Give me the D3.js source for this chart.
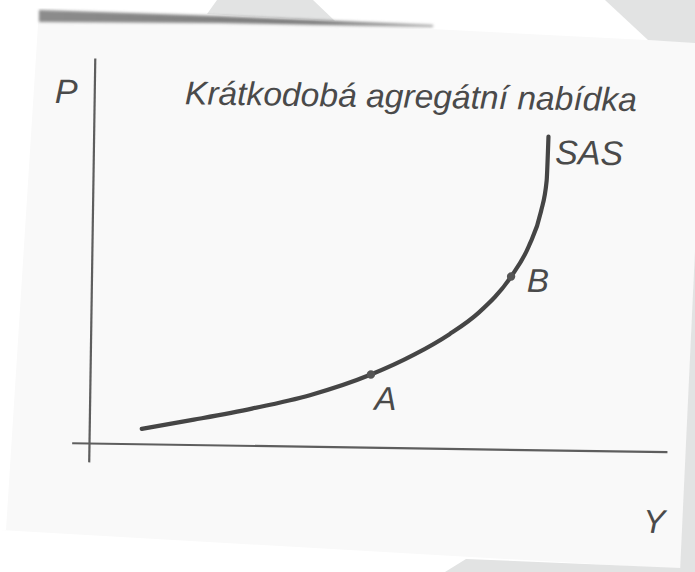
<!DOCTYPE html>
<html>
<head>
<meta charset="utf-8">
<script src="https://cdn.jsdelivr.net/npm/d3@7"></script>
<style>
  html, body { margin: 0; padding: 0; background: #ffffff; }
  svg { display: block; }
  text { font-family: "Liberation Sans", Arial, Helvetica, sans-serif; font-style: italic; fill: #4a4a4a; }
</style>
</head>
<body>
<script>
// Short-run aggregate supply curve (output Y vs. price level P)
const outputY = [9, 18, 28, 38, 48.5, 56, 62, 67, 72.5, 75.5, 77.5, 78.4, 78.6];
const priceP  = [4, 6.6, 9.7, 13.4, 19, 24.4, 29.8, 35.5, 45, 53, 62, 70, 81.5];

// Marked points on the curve
const pointNames = ["A", "B"];
const pointY     = [48.5, 72.5];
const pointP     = [19, 45];

const titleText = "Krátkodobá agregátní nabídka";
const curveName = "SAS";
const axisNames = { x: "Y", y: "P" };

const W = 695, H = 572;
const svg = d3.select("body").append("svg").attr("width", W).attr("height", H);

// ---- printed page backdrop ----
const bg = svg.append("g");
const defs = svg.append("defs");
defs.append("filter").attr("id", "soft").append("feGaussianBlur").attr("stdDeviation", 1.6);
const grad = defs.append("linearGradient").attr("id", "edge").attr("x1", 0).attr("x2", 1);
grad.append("stop").attr("offset", 0).attr("stop-color", "#8c8c8c");
grad.append("stop").attr("offset", 0.7).attr("stop-color", "#7a7a7a");
grad.append("stop").attr("offset", 1).attr("stop-color", "#9a9a9a");

const poly = pts => pts.map(p => p.join(",")).join(" ");
bg.append("polygon").attr("points", poly([[39,9],[647,40],[695,42],[695,250],[681,572],[0,572],[0,530],[6,530]]))
  .attr("fill", "#f9f9f9");
bg.append("polygon").attr("points", poly([[0,530],[681,569],[681,572],[0,572]])).attr("fill", "#ffffff");
bg.append("polygon").attr("points", poly([[217,0],[313,0],[335,21],[207,14]])).attr("fill", "#e2e3e3");
bg.append("polygon").attr("points", poly([[605,0],[695,0],[695,43],[648,40]])).attr("fill", "#e2e3e3");
bg.append("polygon").attr("points", poly([[695,250],[695,572],[680,572]])).attr("fill", "#e2e3e3");
bg.append("polygon").attr("points", poly([[445,572],[466,559],[681,568],[681,572]])).attr("fill", "#e2e3e3");
bg.append("polygon").attr("points", poly([[39,10],[220,16],[433,25],[433,27],[220,23],[39,22]]))
  .attr("fill", "url(#edge)").attr("filter", "url(#soft)");

// ---- chart (the printed figure sits slightly rotated) ----
const origin = [89.5, 443.5];
const g = svg.append("g")
  .attr("transform", `translate(${origin[0]},${origin[1]}) rotate(0.86)`);

const x = d3.scaleLinear().domain([0, 100]).range([0, 578]);
const y = d3.scaleLinear().domain([0, 100]).range([0, -385]);

// axes: plain lines without ticks, crossing a little past the origin
g.append("line").attr("x1", x(-3)).attr("x2", x(100)).attr("y1", y(0)).attr("y2", y(0))
  .attr("stroke", "#5e5e5e").attr("stroke-width", 2.2);
g.append("line").attr("x1", x(0)).attr("x2", x(0)).attr("y1", y(-4.9)).attr("y2", y(100))
  .attr("stroke", "#5e5e5e").attr("stroke-width", 2.2);

const data = outputY.map((v, i) => [v, priceP[i]]);
const line = d3.line().x(d => x(d[0])).y(d => y(d[1])).curve(d3.curveMonotoneX);
g.append("path").datum(data).attr("d", line)
  .attr("fill", "none").attr("stroke", "#454545").attr("stroke-width", 4.2)
  .attr("stroke-linecap", "round");

pointNames.forEach((n, i) => {
  g.append("circle").attr("cx", x(pointY[i])).attr("cy", y(pointP[i])).attr("r", 4.2)
    .attr("fill", "#555");
});

// labels
g.append("text").attr("x", x(48.5) + 4).attr("y", y(19) + 35).attr("font-size", 33).text(pointNames[0]);
g.append("text").attr("x", x(72.5) + 16).attr("y", y(45) + 15).attr("font-size", 33).text(pointNames[1]);
g.append("text").attr("x", x(79.8)).attr("y", y(74.4)).attr("font-size", 34).text(curveName);
g.append("text").attr("x", x(96)).attr("y", y(-21)).attr("font-size", 33).text(axisNames.x);
g.append("text").attr("x", x(-6.9)).attr("y", y(88.3)).attr("font-size", 34).text(axisNames.y);
g.append("text").attr("x", x(15.6)).attr("y", y(88.5)).attr("font-size", 33)
  .attr("textLength", 452).attr("lengthAdjust", "spacingAndGlyphs").text(titleText);
</script>
</body>
</html>
